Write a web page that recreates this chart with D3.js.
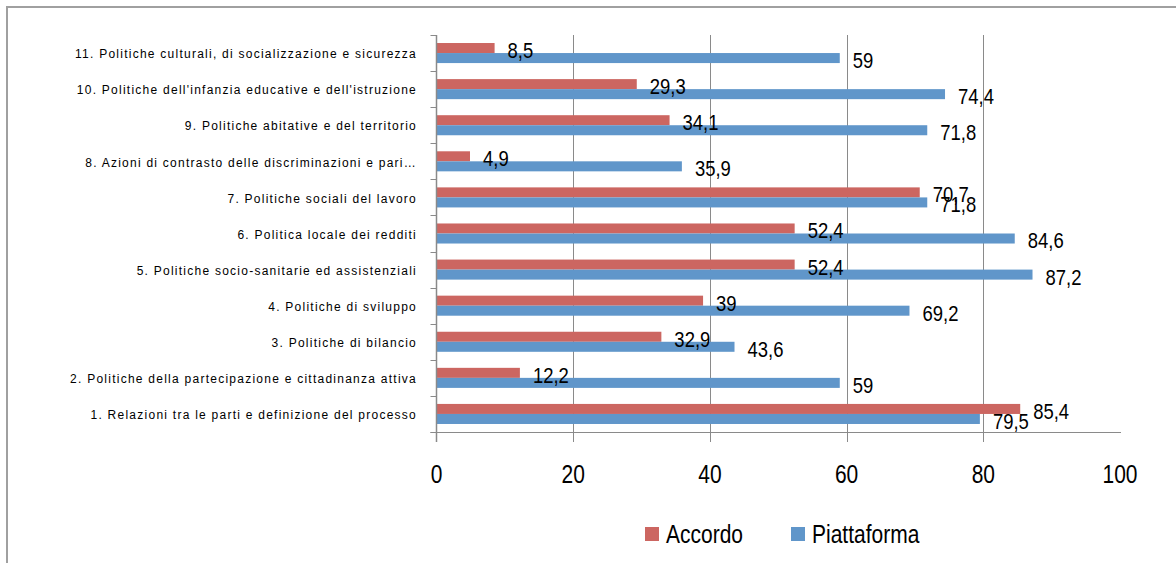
<!DOCTYPE html>
<html>
<head>
<meta charset="utf-8">
<script src="https://cdnjs.cloudflare.com/ajax/libs/d3/7.8.5/d3.min.js"></script>
<style>
  html, body { margin: 0; padding: 0; background: #fff; }
  svg { display: block; }
  .cat-label { font-family: "Liberation Sans", Arial, sans-serif; font-size: 12px; letter-spacing: 1.25px; fill: #000; }
  .num { font-family: "Liberation Sans", Arial, sans-serif; fill: #000; }
</style>
</head>
<body>
<svg id="chart"></svg>
<script>
// Categories, bottom to top as in the picture
const categories = [
  '1. Relazioni tra le parti e definizione del processo',
  '2. Politiche della partecipazione e cittadinanza attiva',
  '3. Politiche di bilancio',
  '4. Politiche di sviluppo',
  '5. Politiche socio-sanitarie ed assistenziali',
  '6. Politica locale dei redditi',
  '7. Politiche sociali del lavoro',
  '8. Azioni di contrasto delle discriminazioni e pari…',
  '9. Politiche abitative e del territorio',
  '10. Politiche dell\'infanzia educative e dell\'istruzione',
  '11. Politiche culturali, di socializzazione e sicurezza'
];
const series = ['Accordo', 'Piattaforma'];
const accordo = [85.4, 12.2, 32.9, 39, 52.4, 52.4, 70.7, 4.9, 34.1, 29.3, 8.5];
const piattaforma = [79.5, 59, 43.6, 69.2, 87.2, 84.6, 71.8, 35.9, 71.8, 74.4, 59];
const xTicks = [0, 20, 40, 60, 80, 100];

const colors = { Accordo: '#cc6661', Piattaforma: '#6096ca' };

const width = 1176, height = 563;
const plot = { left: 436.5, right: 1120, top: 35, bottom: 432 };
const narrow = 0.84; // horizontal squeeze to mimic the condensed numerals

const svg = d3.select('#chart').attr('width', width).attr('height', height);

// Outer chart border (continues beyond the crop)
svg.append('rect')
  .attr('x', 7).attr('y', 7)
  .attr('width', 1300).attr('height', 700)
  .style('fill', 'none')
  .style('stroke', '#a0a0a0')
  .style('stroke-width', 2);

const x = d3.scaleLinear().domain([0, 100]).range([plot.left, plot.right]);

// Rows from top (11) to bottom (1)
const y0 = d3.scaleBand()
  .domain(categories.slice().reverse())
  .range([plot.top, plot.bottom]);

const y1 = d3.scaleBand()
  .domain(series)
  .range([0, y0.bandwidth()])
  .paddingOuter(0.8);

const data = categories.map((c, i) => ({
  cat: c,
  values: [
    { key: 'Accordo', value: accordo[i] },
    { key: 'Piattaforma', value: piattaforma[i] }
  ]
}));

// Gridlines (20..80) running past the axis as tick marks
svg.append('g')
  .selectAll('line')
  .data(xTicks.filter(d => d > 0 && d < 100))
  .join('line')
  .attr('x1', d => Math.round(x(d)) + 0.5)
  .attr('x2', d => Math.round(x(d)) + 0.5)
  .attr('y1', plot.top)
  .attr('y2', plot.bottom + 10)
  .style('stroke', '#8a8a8a')
  .style('stroke-width', 1);

// Bars
const rows = svg.append('g')
  .selectAll('g.row')
  .data(data)
  .join('g')
  .attr('class', 'row')
  .attr('transform', d => `translate(0, ${y0(d.cat)})`);

rows.selectAll('rect')
  .data(d => d.values)
  .join('rect')
  .attr('x', x(0))
  .attr('y', d => y1(d.key))
  .attr('width', d => x(d.value) - x(0))
  .attr('height', y1.bandwidth())
  .style('fill', d => colors[d.key]);

// Data labels
rows.selectAll('text')
  .data(d => d.values)
  .join('text')
  .attr('class', 'num')
  .attr('transform', d => `translate(${x(d.value) + 13}, ${y1(d.key) + y1.bandwidth() / 2 + 2}) scale(${narrow}, 1)`)
  .attr('dy', '0.36em')
  .style('font-size', '22px')
  .text(d => String(d.value).replace('.', ','));

// Horizontal axis line
svg.append('line')
  .attr('x1', x(0) - 6).attr('x2', x(100) + 1)
  .attr('y1', plot.bottom + 0.5).attr('y2', plot.bottom + 0.5)
  .style('stroke', '#8a8a8a');

// Vertical axis with tick marks at row boundaries
svg.append('line')
  .attr('x1', x(0)).attr('x2', x(0))
  .attr('y1', plot.top).attr('y2', plot.bottom + 10)
  .style('stroke', '#8a8a8a')
  .style('stroke-width', 1.5);

const boundaries = d3.range(categories.length + 1).map(i => plot.top + i * y0.step());
svg.append('g')
  .selectAll('line')
  .data(boundaries)
  .join('line')
  .attr('x1', x(0) - 6).attr('x2', x(0))
  .attr('y1', d => Math.round(d) + 0.5).attr('y2', d => Math.round(d) + 0.5)
  .style('stroke', '#8a8a8a');

// Category labels
svg.append('g')
  .selectAll('text')
  .data(categories)
  .join('text')
  .attr('class', 'cat-label')
  .attr('x', 417)
  .attr('y', d => y0(d) + y0.bandwidth() / 2 + 1)
  .attr('dy', '0.35em')
  .attr('text-anchor', 'end')
  .text(d => d);

// X tick labels
svg.append('g')
  .selectAll('text')
  .data(xTicks)
  .join('text')
  .attr('class', 'num')
  .attr('transform', d => `translate(${x(d)}, 474) scale(${narrow}, 1)`)
  .attr('dy', '0.36em')
  .attr('text-anchor', 'middle')
  .style('font-size', '25px')
  .text(d => d);

// Legend
const legend = svg.append('g')
  .selectAll('g')
  .data(series)
  .join('g')
  .attr('transform', (d, i) => `translate(${i === 0 ? 645 : 791}, 527)`);

legend.append('rect')
  .attr('width', 14).attr('height', 14)
  .style('fill', d => colors[d]);

legend.append('text')
  .attr('class', 'num')
  .attr('transform', `translate(21, 7) scale(${narrow}, 1)`)
  .attr('dy', '0.36em')
  .style('font-size', '25px')
  .text(d => d);
</script>
</body>
</html>
